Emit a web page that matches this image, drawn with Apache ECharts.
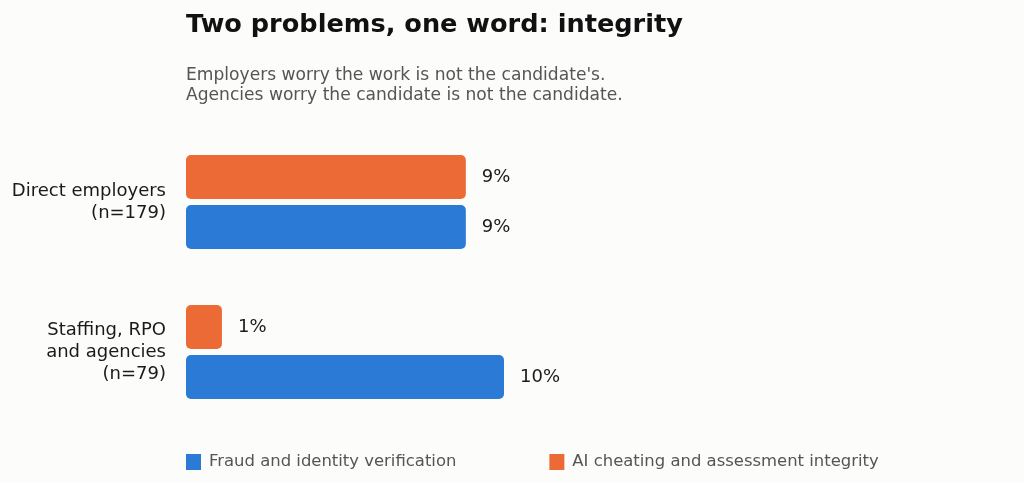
<!DOCTYPE html>
<html>
<head>
<meta charset="utf-8">
<script src="https://cdn.jsdelivr.net/npm/echarts@6/dist/echarts.min.js"></script>
<style>
html,body{margin:0;padding:0;background:#fcfcfa;}
#chart{width:1024px;height:483px;}
</style>
</head>
<body>
<div id="chart"></div>
<script>
const categories = ['Direct employers\n(n=179)', 'Staffing, RPO\nand agencies\n(n=79)'];
const fraudValues = [8.8, 10.0];
const aiValues = [8.8, 1.13];
const seriesNames = ['Fraud and identity verification', 'AI cheating and assessment integrity'];

const chart = echarts.init(document.getElementById('chart'));
const labelCfg = {
  show: true, position: 'right', distance: 16,
  fontFamily: 'DejaVu Sans', fontSize: 18, color: '#1a1a1a',
  formatter: p => Math.round(p.value) + '%'
};
chart.setOption({
  backgroundColor: '#fcfcfa',
  animation: false,
  title: [
    { text: 'Two problems, one word: integrity', left: 186, top: 12, padding: 0,
      textStyle: { fontFamily: 'DejaVu Sans', fontSize: 25.6, fontWeight: 'bold', color: '#111' } },
    { text: "Employers worry the work is not the candidate's.\nAgencies worry the candidate is not the candidate.", left: 186, top: 66, padding: 0,
      textStyle: { fontFamily: 'DejaVu Sans', fontSize: 17.1, fontWeight: 'normal', color: '#555', lineHeight: 20 } }
  ],
  legend: {
    data: seriesNames, left: 186, top: 454, itemGap: 93, padding: 0,
    itemWidth: 15, itemHeight: 16, icon: 'rect',
    textStyle: { fontFamily: 'DejaVu Sans', fontSize: 16.45, color: '#555', padding: [0, 0, 0, 3] }
  },
  grid: { left: 186, top: 127, width: 636, height: 300, containLabel: false },
  xAxis: { type: 'value', min: 0, max: 20, show: false },
  yAxis: {
    type: 'category', data: categories, inverse: true,
    axisLine: { show: false }, axisTick: { show: false },
    axisLabel: { margin: 20, fontFamily: 'DejaVu Sans', fontSize: 18, color: '#1a1a1a', lineHeight: 22, align: 'right' }
  },
  series: [
    { name: seriesNames[1], type: 'bar', data: aiValues, barWidth: 44, barGap: '14%',
      itemStyle: { color: '#ec6a35', borderRadius: 5 }, label: labelCfg },
    { name: seriesNames[0], type: 'bar', data: fraudValues, barWidth: 44, barGap: '14%',
      itemStyle: { color: '#2a7ad6', borderRadius: 5 }, label: labelCfg }
  ]
});
</script>
</body>
</html>
